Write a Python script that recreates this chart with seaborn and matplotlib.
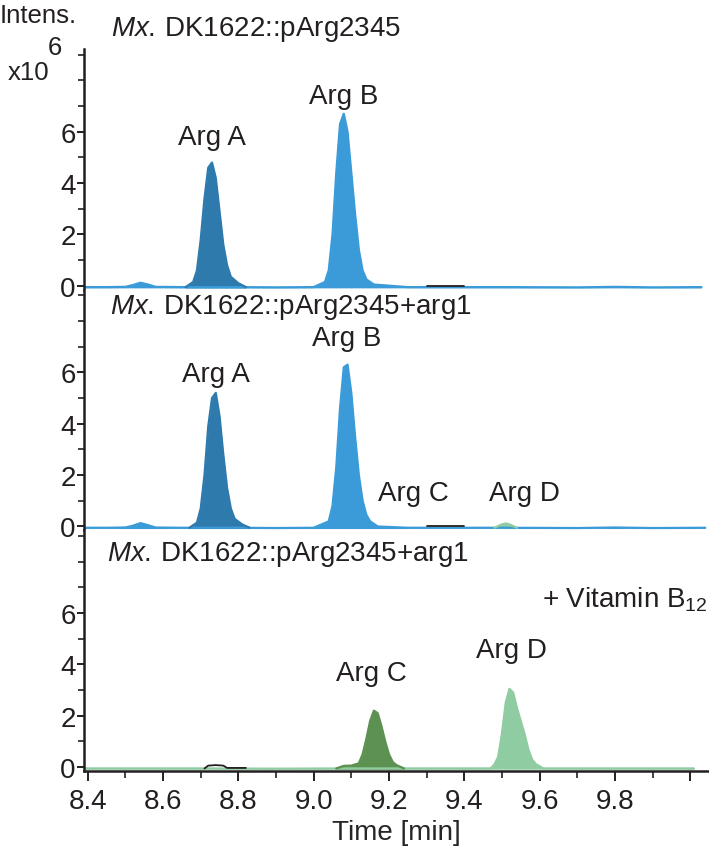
import numpy as np
import pandas as pd
import matplotlib
matplotlib.use("Agg")
import matplotlib.pyplot as plt
import seaborn as sns
from matplotlib.ticker import FixedLocator, FixedFormatter

# Colours of the extracted ion chromatograms
DARK_BLUE = "#2f7aad"
LIGHT_BLUE = "#3b9bd8"
DARK_GREEN = "#5c9152"
LIGHT_GREEN = "#8fcca2"

# ---- top panel: Mx. DK1622::pArg2345 ----
top_blue_t = [8.39, 8.45, 8.50, 8.52, 8.54, 8.56, 8.58, 8.65, 8.80, 8.90, 9.00, 9.03, 9.04, 9.05,
              9.06, 9.07, 9.08, 9.09, 9.10, 9.11, 9.12, 9.13, 9.14, 9.16, 9.25, 9.50, 9.70, 9.80,
              9.90, 10.03]
top_blue_i = [-0.05, -0.05, -0.04, 0.03, 0.12, 0.05, -0.04, -0.05, -0.05, -0.06, -0.05, 0.15, 0.6, 2.0,
              4.4, 6.3, 6.7, 6.0, 4.4, 2.8, 1.4, 0.6, 0.25, 0.05, -0.05, -0.05, -0.06, -0.04,
              -0.06, -0.05]
top_dark_t = [8.66, 8.68, 8.69, 8.70, 8.71, 8.72, 8.73, 8.74, 8.75, 8.76, 8.77, 8.78, 8.80, 8.82]
top_dark_i = [-0.05, 0.15, 0.6, 1.8, 3.4, 4.6, 4.8, 4.2, 2.9, 1.6, 0.8, 0.35, 0.1, -0.05]
top_black_t = [9.30, 9.40]
top_black_i = [0.0, 0.0]

# ---- middle panel: + arg1 ----
mid_blue_t = [8.39, 8.45, 8.50, 8.52, 8.54, 8.56, 8.58, 8.65, 8.80, 8.90, 9.00, 9.04, 9.05, 9.06,
              9.07, 9.08, 9.09, 9.10, 9.11, 9.12, 9.13, 9.14, 9.15, 9.17, 9.25, 9.50, 9.70, 9.80,
              9.90, 10.04]
mid_blue_i = [-0.05, -0.05, -0.04, 0.03, 0.13, 0.05, -0.04, -0.05, -0.05, -0.06, -0.05, 0.2, 0.8, 2.3,
              4.6, 6.2, 6.3, 5.2, 3.5, 2.0, 1.0, 0.45, 0.2, 0.0, -0.05, -0.05, -0.06, -0.04,
              -0.06, -0.05]
mid_dark_t = [8.67, 8.69, 8.70, 8.71, 8.72, 8.73, 8.74, 8.75, 8.76, 8.77, 8.78, 8.79, 8.81, 8.83]
mid_dark_i = [-0.05, 0.15, 0.7, 2.0, 3.9, 5.0, 5.2, 4.3, 2.8, 1.5, 0.7, 0.3, 0.08, -0.05]
mid_green_t = [9.48, 9.50, 9.51, 9.52, 9.54]
mid_green_i = [-0.05, 0.08, 0.12, 0.08, -0.05]
mid_black_t = [9.30, 9.40]
mid_black_i = [0.0, 0.0]

# ---- bottom panel: + arg1 + Vitamin B12 ----
bot_light_t = [8.39, 8.50, 8.70, 8.90, 9.10, 9.30, 9.45, 9.47, 9.48, 9.49, 9.50, 9.51, 9.52, 9.53,
               9.54, 9.55, 9.56, 9.57, 9.58, 9.59, 9.61, 9.80, 10.01]
bot_light_i = [-0.05, -0.05, -0.05, -0.06, -0.05, -0.05, -0.05, -0.05, 0.1, 0.4, 1.3, 2.5, 3.05, 2.9,
               2.3, 1.8, 1.3, 0.7, 0.3, 0.12, -0.05, -0.05, -0.05]
bot_dark_t = [9.06, 9.08, 9.10, 9.12, 9.13, 9.14, 9.15, 9.16, 9.17, 9.18, 9.19, 9.20, 9.21, 9.22, 9.24]
bot_dark_i = [-0.05, 0.05, 0.06, 0.15, 0.5, 1.1, 1.8, 2.2, 2.1, 1.6, 1.0, 0.5, 0.2, 0.08, -0.05]
bot_black_t = [8.71, 8.72, 8.74, 8.76, 8.77, 8.82]
bot_black_i = [-0.05, 0.06, 0.08, 0.06, -0.03, -0.03]

titles = [r"$\it{Mx.}\,$DK1622::pArg2345",
          r"$\it{Mx.}\,$DK1622::pArg2345+arg1",
          r"$\it{Mx.}\,$DK1622::pArg2345+arg1"]
title_pos = [(8.463, 10.0), (8.458, 8.56), (8.452, 8.3)]

peak_labels = [
    [("Arg A", 8.729, 5.8), ("Arg B", 9.079, 7.4)],
    [("Arg A", 8.740, 5.95), ("Arg B", 9.087, 7.35), ("Arg C", 9.265, 1.3), ("Arg D", 9.560, 1.3)],
    [("Arg C", 9.153, 3.65), ("Arg D", 9.525, 4.55)],
]

x_ticks = [8.4, 8.6, 8.8, 9.0, 9.2, 9.4, 9.6, 9.8, 10.0]
x_tick_labels = ["8.4", "8.6", "8.8", "9.0", "9.2", "9.4", "9.6", "9.8", ""]
x_minor = [8.5, 8.7, 8.9, 9.1, 9.3, 9.5, 9.7, 9.9]
y_ticks = [0, 2, 4, 6]
y_minor = [1, 3, 5, 7, 8, 9]

sns.set_theme(style="ticks")
plt.rcParams.update({
    "font.family": ["Liberation Sans", "DejaVu Sans"],
    "mathtext.fontset": "custom",
    "mathtext.rm": "Liberation Sans",
    "mathtext.it": "Liberation Sans:italic",
    "mathtext.default": "regular",
    "text.color": "#231f20",
    "axes.edgecolor": "#231f20",
    "xtick.color": "#231f20",
    "ytick.color": "#231f20",
})

FS = 20

fig = plt.figure(figsize=(7.09, 8.53), dpi=100)
left, right = 84 / 709, 1.0
bottom, top = 81 / 853, 1 - 50 / 853
h = (top - bottom) / 3
axes = [fig.add_axes([left, bottom + (2 - k) * h, right - left, h]) for k in range(3)]


def draw_trace(ax, t, y, color, lw=2.0, fill=True):
    df = pd.DataFrame({"time": t, "intens": y})
    if fill:
        ax.fill_between(df["time"], df["intens"], -0.08, color=color, lw=0)
    sns.lineplot(data=df, x="time", y="intens", color=color, lw=lw, ax=ax)


panels = [
    [(top_blue_t, top_blue_i, LIGHT_BLUE, True), (top_dark_t, top_dark_i, DARK_BLUE, True),
     (top_black_t, top_black_i, "#231f20", False)],
    [(mid_blue_t, mid_blue_i, LIGHT_BLUE, True), (mid_dark_t, mid_dark_i, DARK_BLUE, True),
     (mid_green_t, mid_green_i, LIGHT_GREEN, True), (mid_black_t, mid_black_i, "#231f20", False)],
    [(bot_light_t, bot_light_i, LIGHT_GREEN, True), (bot_dark_t, bot_dark_i, DARK_GREEN, True),
     (bot_black_t, bot_black_i, "#231f20", False)],
]

for k, ax in enumerate(axes):
    for t, y, c, f in panels[k]:
        draw_trace(ax, t, y, c, lw=1.6 if f else 1.3, fill=f)
    ax.set_xlim(8.39, 10.05)
    ax.set_ylim(-0.15, 9.22)
    ax.set_xlabel("")
    ax.set_ylabel("")
    for s in ["top", "right"]:
        ax.spines[s].set_visible(False)
    ax.spines["left"].set_linewidth(1.8)
    ax.yaxis.set_major_locator(FixedLocator(y_ticks))
    ax.yaxis.set_minor_locator(FixedLocator(y_minor))
    ax.tick_params(axis="y", which="major", length=5, width=1.4, labelsize=FS, pad=1)
    ax.tick_params(axis="y", which="minor", length=4, width=1.2)
    if k < 2:
        ax.spines["bottom"].set_visible(False)
        ax.tick_params(axis="x", which="both", bottom=False, labelbottom=False)
    else:
        ax.spines["bottom"].set_linewidth(1.8)
        ax.xaxis.set_major_locator(FixedLocator(x_ticks))
        ax.xaxis.set_major_formatter(FixedFormatter(x_tick_labels))
        ax.xaxis.set_minor_locator(FixedLocator(x_minor))
        ax.tick_params(axis="x", which="major", length=7, width=1.4, labelsize=FS, pad=5)
        ax.tick_params(axis="x", which="minor", length=5, width=1.2)
        ax.set_xlabel("Time [min]", fontsize=FS, labelpad=4)
    tx, ty = title_pos[k]
    ax.text(tx, ty, titles[k], fontsize=FS, ha="left", va="center", clip_on=False)
    for lab, lx, ly in peak_labels[k]:
        ax.text(lx, ly, lab, fontsize=FS, ha="center", va="center", clip_on=False)

axes[2].text(10.045, 6.55, "+ Vitamin B$_{12}$", fontsize=FS, ha="right", va="center", clip_on=False)

fig.text(0.0, 1 - 23 / 853, "Intens.", fontsize=18.5, ha="left", va="baseline")
fig.text(8 / 709, 1 - 80 / 853, "x10", fontsize=18.5, ha="left", va="baseline")
fig.text(48 / 709, 1 - 55 / 853, "6", fontsize=18.5, ha="left", va="baseline")

fig.savefig("out.png", dpi=100)
